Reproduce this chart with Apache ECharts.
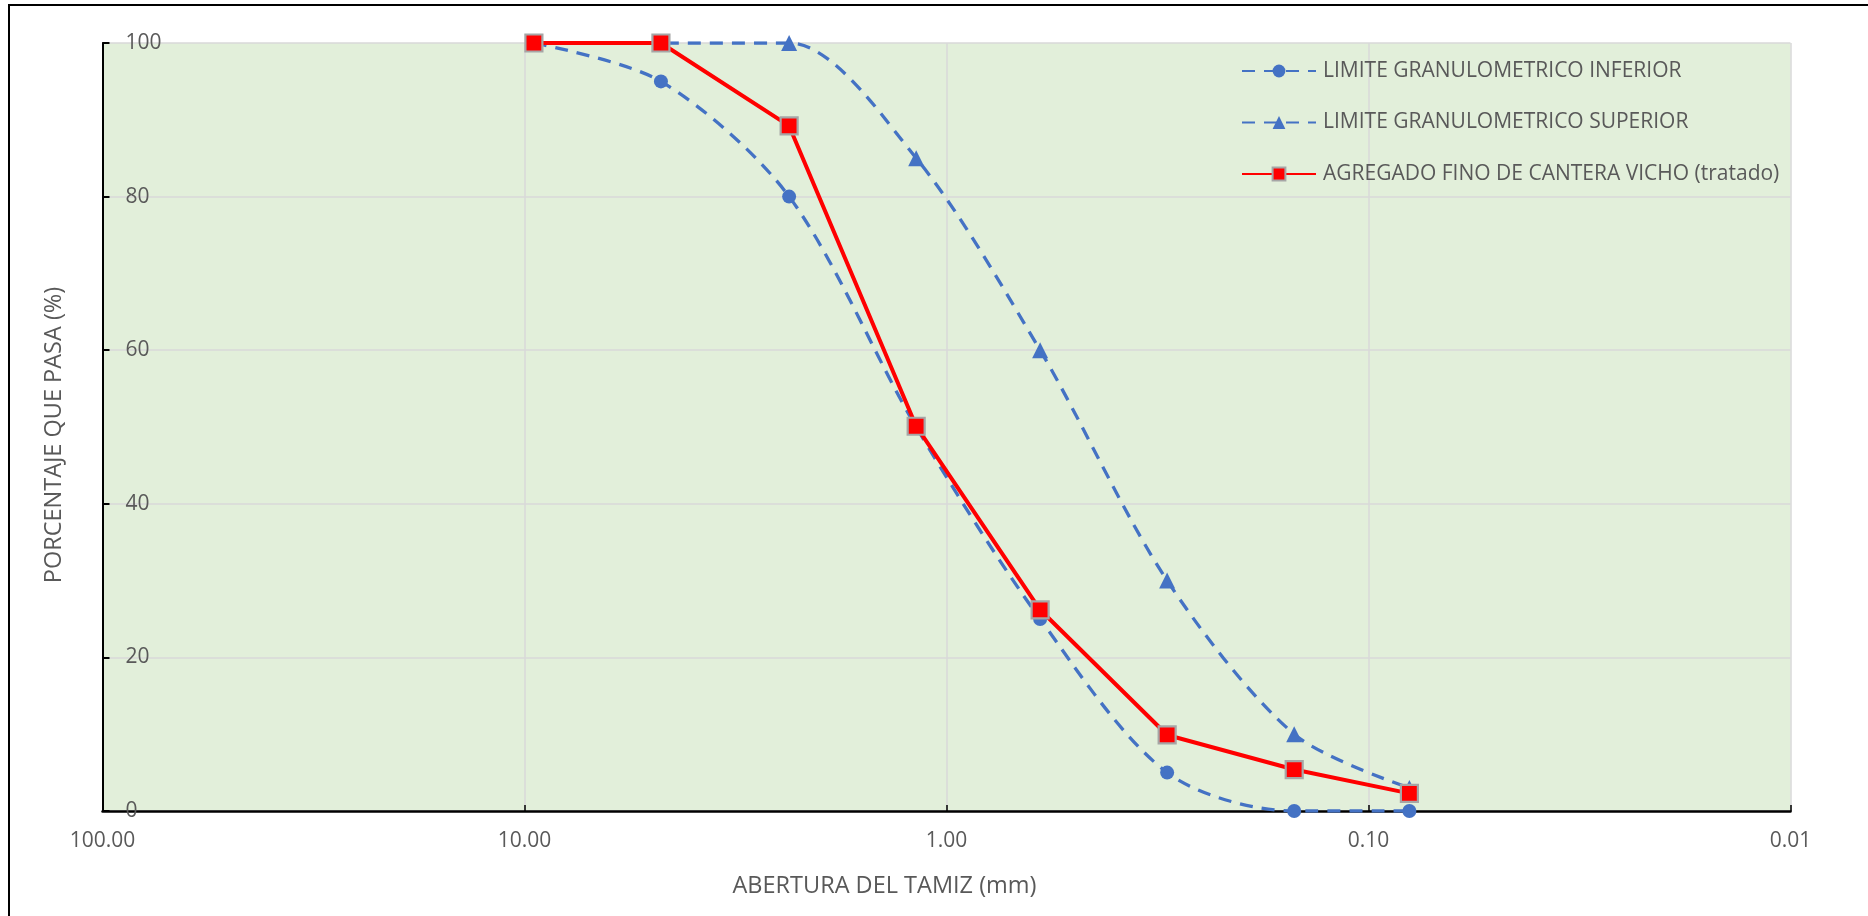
<!DOCTYPE html>
<html>
<head>
<meta charset="utf-8">
<script src="https://cdn.jsdelivr.net/npm/echarts@6/dist/echarts.min.js"></script>
<style>
html,body{margin:0;padding:0;background:#fff;}
#chart{width:1868px;height:916px;}
</style>
</head>
<body>
<div id="chart"></div>
<script>
// Sieve openings (mm)
var sieveSizes = [9.5, 4.75, 2.36, 1.18, 0.6, 0.3, 0.15, 0.08];
// Lower gradation limit (% passing)
var limiteInferior = [100, 95, 80, 50, 25, 5, 0, 0];
// Upper gradation limit (% passing)
var limiteSuperior = [100, 100, 100, 85, 60, 30, 10, 3];
// Treated fine aggregate (% passing)
var agregadoTratado = [100, 100, 89.2, 50.1, 26.2, 9.9, 5.4, 2.3];

var seriesNames = [
  'LIMITE GRANULOMETRICO INFERIOR',
  'LIMITE GRANULOMETRICO SUPERIOR',
  'AGREGADO FINO DE CANTERA VICHO (tratado)'
];
var xAxisTitle = 'ABERTURA DEL TAMIZ (mm)';
var yAxisTitle = 'PORCENTAJE QUE PASA (%)';

function pairs(xs, ys) {
  return xs.map(function (x, i) { return [x, ys[i]]; });
}

var FONT = 'Open Sans';
var TXT = '#595959';
var BLUE = '#4472C4';

var chart = echarts.init(document.getElementById('chart'), null, {renderer: 'canvas'});
chart.setOption({
  animation: false,
  backgroundColor: '#ffffff',
  textStyle: {fontFamily: FONT},
  grid: {
    left: 102.5, right: 77.5, top: 43, bottom: 105,
    show: true, backgroundColor: '#E2EFDA', borderWidth: 0
  },
  legend: {
    orient: 'vertical',
    left: 1236, top: 54,
    itemWidth: 74, itemHeight: 16,
    itemGap: 27.5,
    textStyle: {color: TXT, fontSize: 21, fontFamily: FONT, lineHeight: 24, padding: [0, 0, 0, 2]},
    data: seriesNames
  },
  xAxis: {
    type: 'log', logBase: 10,
    min: 0.01, max: 100,
    inverse: true,
    axisLine: {show: true, onZero: false, lineStyle: {color: '#000', width: 2.5}},
    axisTick: {show: true, inside: true, length: 6, lineStyle: {color: '#000', width: 1.5}},
    axisLabel: {
      color: TXT, fontSize: 21, fontFamily: FONT, margin: 20,
      formatter: function (v) { return Number(v).toFixed(2); }
    },
    splitLine: {show: true, lineStyle: {color: '#D9D9D9', width: 1.5}}
  },
  yAxis: {
    type: 'value', min: 0, max: 100, interval: 20,
    axisLine: {show: true, lineStyle: {color: '#000', width: 2}},
    axisTick: {show: true, inside: true, length: 7, lineStyle: {color: '#000', width: 2}},
    axisLabel: {inside: true, color: TXT, fontSize: 21, fontFamily: FONT, margin: 23},
    splitLine: {show: true, lineStyle: {color: '#D9D9D9', width: 1.5}}
  },
  graphic: [
    {
      type: 'rect', silent: true, z: 100,
      shape: {x: 9, y: 5, width: 1900, height: 1000},
      style: {fill: 'none', stroke: '#000', lineWidth: 2}
    },
    {
      type: 'text', silent: true,
      x: 884.5, y: 886,
      style: {text: xAxisTitle, fill: TXT, font: '23.5px "Open Sans"', textAlign: 'center', textVerticalAlign: 'middle'}
    },
    {
      type: 'text', silent: true,
      x: 54, y: 435, rotation: Math.PI / 2,
      style: {text: yAxisTitle, fill: TXT, font: '23.5px "Open Sans"', textAlign: 'center', textVerticalAlign: 'middle'}
    }
  ],
  series: [
    {
      name: seriesNames[0], type: 'line',
      data: pairs(sieveSizes, limiteInferior),
      smooth: 0.3,
      symbol: 'circle', symbolSize: 14,
      itemStyle: {color: BLUE},
      lineStyle: {color: BLUE, width: 3.3, type: [13, 9]},
      z: 2
    },
    {
      name: seriesNames[1], type: 'line',
      data: pairs(sieveSizes, limiteSuperior),
      smooth: 0.3,
      symbol: 'triangle', symbolSize: 16,
      itemStyle: {color: BLUE},
      lineStyle: {color: BLUE, width: 3.3, type: [13, 9]},
      z: 2
    },
    {
      name: seriesNames[2], type: 'line',
      data: pairs(sieveSizes, agregadoTratado),
      symbol: 'rect', symbolSize: 17,
      itemStyle: {color: '#FF0000', borderColor: '#A6A6A6', borderWidth: 2.2},
      lineStyle: {color: '#FF0000', width: 4},
      z: 3
    }
  ]
});
</script>
</body>
</html>
